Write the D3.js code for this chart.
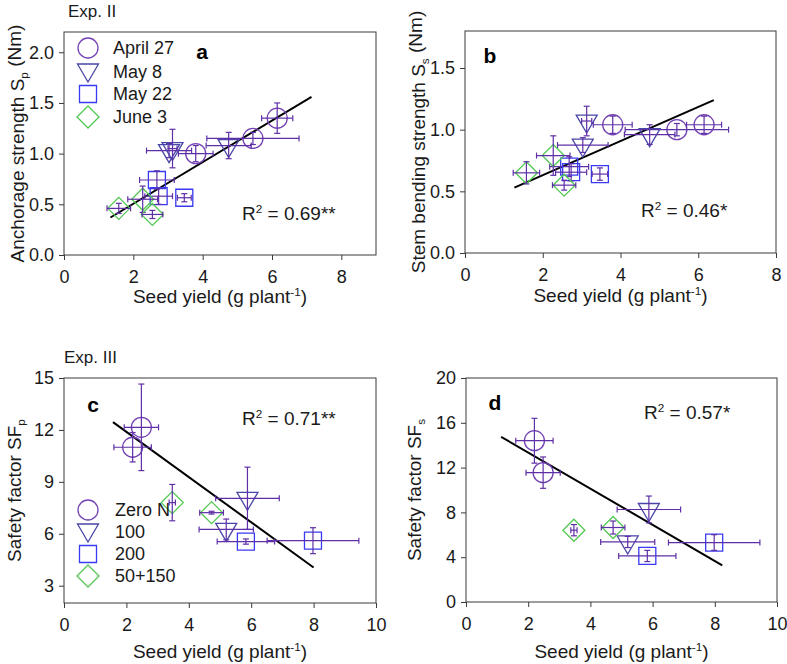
<!DOCTYPE html>
<html><head><meta charset="utf-8">
<script src="https://cdn.jsdelivr.net/npm/d3@7"></script>
<style>
body{margin:0;background:#fff}
svg{display:block;font-family:Arial,"Liberation Sans",sans-serif}
</style>
</head><body>
<svg id="chart" width="787" height="664"></svg>
<script>
// ---------- DATA ----------
const exp2Groups = ["April 27", "May 8", "May 22", "June 3"];
const exp3Groups = ["Zero N", "100", "200", "50+150"];

// Exp. II : seed yield (x) and its error, per sowing date
const exp2Yield    = [[3.80, 5.45, 6.15], [3.03, 3.13, 4.75], [2.68, 2.73, 3.47], [1.58, 2.27, 2.55]];
const exp2YieldErr = [[0.50, 1.33, 0.45], [0.65, 0.13, 0.65], [0.50, 0.40, 0.20], [0.34, 0.43, 0.30]];
// anchorage strength Sp (Nm)
const anchorage    = [[1.00, 1.15, 1.35], [1.03, 1.05, 1.08], [0.74, 0.58, 0.565], [0.46, 0.55, 0.40]];
const anchorageErr = [[0.08, 0.06, 0.15], [0.07, 0.19, 0.13], [0.09, 0.08, 0.04], [0.05, 0.13, 0.04]];
// stem bending strength Ss (Nm)
const stemBending    = [[1.04, 1.00, 1.04], [0.875, 1.07, 0.96], [0.70, 0.655, 0.64], [0.65, 0.79, 0.55]];
const stemBendingErr = [[0.07, 0.05, 0.07], [0.06, 0.12, 0.08], [0.08, 0.07, 0.05], [0.09, 0.16, 0.04]];

// Exp. III : seed yield per N treatment
const exp3Yield    = [[2.20, 2.48], [5.20, 5.88], [5.83, 7.98], [3.47, 4.73]];
const exp3YieldErr = [[0.60, 0.55], [0.87, 1.02], [0.92, 1.47], [0.10, 0.38]];
// safety factor SFp
const sfAnchorage    = [[11.0, 12.15], [6.25, 8.05], [5.55, 5.60], [7.80, 7.22]];
const sfAnchorageErr = [[0.85, 2.50], [0.60, 1.80], [0.15, 0.75], [1.05, 0.08]];
// safety factor SFs
const sfStem    = [[14.4, 11.55], [5.36, 8.26], [4.11, 5.31], [6.41, 6.65]];
const sfStemErr = [[2.00, 1.40], [0.50, 1.20], [0.50, 0.70], [0.50, 0.58]];

// regression line end points
const trendAX = [1.34, 7.14], trendAY = [0.37, 1.56];
const trendBX = [1.27, 6.40], trendBY = [0.53, 1.24];
const trendCX = [1.57, 8.00], trendCY = [12.45, 4.05];
const trendDX = [1.13, 8.24], trendDY = [14.75, 3.28];

const r2Labels = ["0.69**", "0.46*", "0.71**", "0.57*"];
const panelLetters = ["a", "b", "c", "d"];

// tick values
const ticksAX = [0, 2, 4, 6, 8], ticksAY = [0, 0.5, 1.0, 1.5, 2.0];
const ticksBX = [0, 2, 4, 6, 8], ticksBY = [0, 0.5, 1.0, 1.5];
const ticksCX = [0, 2, 4, 6, 8, 10], ticksCY = [3, 6, 9, 12, 15];
const ticksDX = [0, 2, 4, 6, 8, 10], ticksDY = [0, 4, 8, 12, 16, 20];

// ---------- STYLE ----------
const shapes = ["circle", "triangle", "square", "diamond"];
const colors = ["#7442b4", "#4a46a8", "#3a3af2", "#52c852"];
const errColor = "#5e2fa6";
const axisColor = "#3a3a3a";

const svg = d3.select("#chart");

function markerPath(shape) {
  switch (shape) {
    case "circle": return "M10,0A10,10 0 1,1 -10,0A10,10 0 1,1 10,0Z";
    case "triangle": return "M-10.5,-6L10.5,-6L0,12Z";
    case "square": return "M-8.5,-8.5H8.5V8.5H-8.5Z";
    case "diamond": return "M0,-11L11,0L0,11L-11,0Z";
  }
}

function addSubSup(textSel, parts) {
  parts.forEach(p => {
    const t = textSel.append("tspan").text(p.t);
    if (p.sup) t.attr("font-size", "0.62em").attr("dy", "-0.6em");
    if (p.sub) t.attr("font-size", "0.62em").attr("dy", "0.35em");
    if (p.reset) t.attr("dy", p.reset);
  });
}

function drawPanel(cfg) {
  const g = svg.append("g");
  const x = d3.scaleLinear().domain(cfg.xd).range([cfg.l, cfg.r]);
  const y = d3.scaleLinear().domain(cfg.yd).range([cfg.b, cfg.t]);

  // axes
  const ax = g.append("g").attr("transform", `translate(0,${cfg.b})`)
    .call(d3.axisBottom(x).tickValues(cfg.xt).tickSize(5).tickSizeOuter(0).tickPadding(10).tickFormat(d3.format("d")));
  const ay = g.append("g").attr("transform", `translate(${cfg.l},0)`)
    .call(d3.axisLeft(y).tickValues(cfg.yt).tickSize(5).tickSizeOuter(0).tickPadding(5).tickFormat(d3.format(cfg.yf)));
  [ax, ay].forEach(a => {
    a.select(".domain").remove();
    a.selectAll("line").attr("stroke", axisColor);
    a.selectAll("text").attr("font-size", "18px").attr("fill", "#1a1a1a").attr("font-family", "Arial, 'Liberation Sans', sans-serif");
  });
  // frame
  g.append("rect").attr("x", cfg.l).attr("y", cfg.t)
    .attr("width", cfg.r - cfg.l).attr("height", cfg.b - cfg.t)
    .attr("fill", "none").attr("stroke", axisColor).attr("stroke-width", 1);

  // trend line
  const line = d3.line().x(d => x(d[0])).y(d => y(d[1]));
  g.append("path").datum(d3.zip(cfg.tx, cfg.ty)).attr("d", line)
    .attr("stroke", "#000").attr("stroke-width", 2).attr("fill", "none");

  // points
  cfg.xs.forEach((xv, gi) => {
    xv.forEach((xx, i) => {
      const yy = cfg.ys[gi][i];
      const px = x(xx), py = y(yy);
      g.append("path").attr("d", markerPath(shapes[gi]))
        .attr("transform", `translate(${px},${py})`)
        .attr("fill", "none").attr("stroke", colors[gi]).attr("stroke-width", 1.3);
      const xe = cfg.xe[gi][i], ye = cfg.ye[gi][i];
      const x0 = x(xx - xe), x1 = x(xx + xe), y0 = y(yy - ye), y1 = y(yy + ye);
      const eg = g.append("g").attr("stroke", errColor).attr("stroke-width", 1.2).attr("fill", "none");
      eg.append("line").attr("x1", x0).attr("x2", x1).attr("y1", py).attr("y2", py);
      eg.append("line").attr("x1", x0).attr("x2", x0).attr("y1", py - 3).attr("y2", py + 3);
      eg.append("line").attr("x1", x1).attr("x2", x1).attr("y1", py - 3).attr("y2", py + 3);
      eg.append("line").attr("x1", px).attr("x2", px).attr("y1", y0).attr("y2", y1);
      eg.append("line").attr("x1", px - 3).attr("x2", px + 3).attr("y1", y0).attr("y2", y0);
      eg.append("line").attr("x1", px - 3).attr("x2", px + 3).attr("y1", y1).attr("y2", y1);
    });
  });

  // x title
  const xt = g.append("text").attr("x", (cfg.l + cfg.r) / 2).attr("y", cfg.xtY)
    .attr("text-anchor", "middle").attr("font-size", "19px").attr("fill", "#1a1a1a");
  addSubSup(xt, [{t: "Seed yield (g plant"}, {t: "-1", sup: true}, {t: ")", reset: "0.37em"}]);

  // y title
  const yt = g.append("text").attr("transform", `translate(${cfg.ytX},${(cfg.t + cfg.b) / 2}) rotate(-90)`)
    .attr("text-anchor", "middle").attr("font-size", "19px").attr("fill", "#1a1a1a");
  addSubSup(yt, cfg.ytitle);

  // panel letter
  g.append("text").attr("x", cfg.letX).attr("y", cfg.letY).attr("text-anchor", "middle")
    .attr("font-size", "21px").attr("font-weight", "bold").attr("fill", "#000").text(cfg.letter);

  // R2
  const rt = g.append("text").attr("x", cfg.r2X).attr("y", cfg.r2Y)
    .attr("font-size", "19px").attr("fill", "#1a1a1a");
  addSubSup(rt, [{t: "R"}, {t: "2", sup: true}, {t: " = " + cfg.r2, reset: "0.37em"}]);

  // legend
  if (cfg.legend) {
    cfg.legend.forEach((name, gi) => {
      const ly = cfg.legY[gi];
      g.append("path").attr("d", markerPath(shapes[gi]))
        .attr("transform", `translate(${cfg.legX},${ly + (shapes[gi] === "triangle" ? -2 : 0)})`)
        .attr("fill", "none").attr("stroke", colors[gi]).attr("stroke-width", 1.3);
      g.append("text").attr("x", cfg.legTX).attr("y", ly).attr("dy", "0.35em")
        .attr("font-size", "18px").attr("fill", "#1a1a1a").text(name);
    });
  }
}

drawPanel({
  l: 64, r: 376, t: 32, b: 255, xd: [0, 9], yd: [0, 2.2], xt: ticksAX, yt: ticksAY, yf: ".1f",
  tx: trendAX, ty: trendAY, xs: exp2Yield, xe: exp2YieldErr, ys: anchorage, ye: anchorageErr,
  xtY: 303, ytX: 24,
  ytitle: [{t: "Anchorage strength S"}, {t: "p", sub: true}, {t: " (Nm)", reset: "-0.35em"}],
  letter: panelLetters[0], letX: 202, letY: 59, r2X: 242, r2Y: 220, r2: r2Labels[0],
  legend: exp2Groups, legX: 88, legY: [48, 72, 94, 117], legTX: 113
});
drawPanel({
  l: 465, r: 776, t: 31, b: 253, xd: [0, 8], yd: [0, 1.8], xt: ticksBX, yt: ticksBY, yf: ".1f",
  tx: trendBX, ty: trendBY, xs: exp2Yield, xe: exp2YieldErr, ys: stemBending, ye: stemBendingErr,
  xtY: 302, ytX: 425,
  ytitle: [{t: "Stem bending strength S"}, {t: "s", sub: true}, {t: " (Nm)", reset: "-0.35em"}],
  letter: panelLetters[1], letX: 490, letY: 63, r2X: 641, r2Y: 217, r2: r2Labels[1]
});
drawPanel({
  l: 64, r: 376, t: 378, b: 603, xd: [0, 10], yd: [2, 15], xt: ticksCX, yt: ticksCY, yf: "d",
  tx: trendCX, ty: trendCY, xs: exp3Yield, xe: exp3YieldErr, ys: sfAnchorage, ye: sfAnchorageErr,
  xtY: 658, ytX: 21,
  ytitle: [{t: "Safety factor SF"}, {t: "p", sub: true}],
  letter: panelLetters[2], letX: 93, letY: 412, r2X: 242, r2Y: 425, r2: r2Labels[2],
  legend: exp3Groups, legX: 88, legY: [510, 532, 554, 576], legTX: 115
});
drawPanel({
  l: 466, r: 777, t: 378, b: 602, xd: [0, 10], yd: [0, 20], xt: ticksDX, yt: ticksDY, yf: "d",
  tx: trendDX, ty: trendDY, xs: exp3Yield, xe: exp3YieldErr, ys: sfStem, ye: sfStemErr,
  xtY: 658, ytX: 421,
  ytitle: [{t: "Safety factor SF"}, {t: "s", sub: true}],
  letter: panelLetters[3], letX: 495, letY: 410, r2X: 644, r2Y: 419, r2: r2Labels[3]
});

svg.append("text").attr("x", 68).attr("y", 17).attr("font-size", "17px").attr("fill", "#1a1a1a").text("Exp. II");
svg.append("text").attr("x", 64).attr("y", 363).attr("font-size", "17px").attr("fill", "#1a1a1a").text("Exp. III");
</script>
</body></html>
